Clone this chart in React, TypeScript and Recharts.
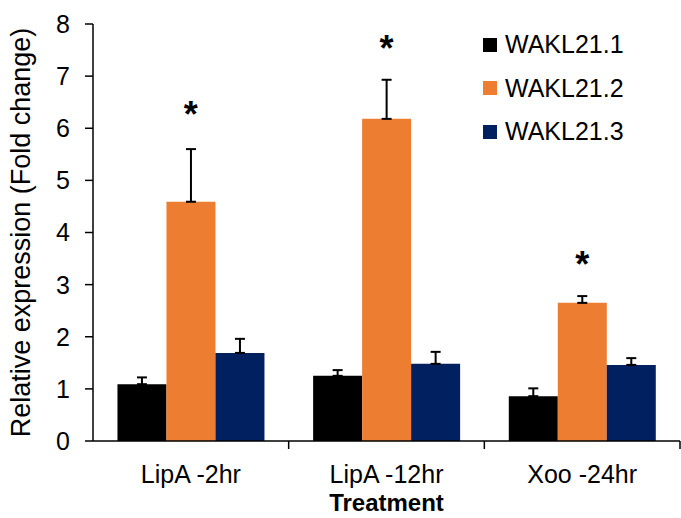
import React from 'react';
import { ComposedChart, Bar, XAxis, YAxis, ErrorBar, Scatter, Label } from 'recharts';

const categories = ['LipA -2hr', 'LipA -12hr', 'Xoo -24hr'];
const wakl211 = [1.09, 1.25, 0.86];
const wakl212 = [4.59, 6.18, 2.65];
const wakl213 = [1.69, 1.48, 1.46];
const err211 = [0.13, 0.11, 0.15];
const err212 = [1.01, 0.75, 0.13];
const err213 = [0.27, 0.23, 0.13];
const starLevel = [6.35, 7.62, 3.47];
const yTicks = [0, 1, 2, 3, 4, 5, 6, 7, 8];

const seriesNames = ['WAKL21.1', 'WAKL21.2', 'WAKL21.3'];
const colors = ['#000000', '#ED7D31', '#002060'];

const data = categories.map((c, i) => ({
  name: c,
  a: wakl211[i],
  b: wakl212[i],
  c: wakl213[i],
  ea: [0, err211[i]],
  eb: [0, err212[i]],
  ec: [0, err213[i]],
  star: starLevel[i],
}));

const FONT = '"Liberation Sans", Arial, sans-serif';

const CatTick = (props: any) => {
  const { x, y, payload, width } = props;
  const half = payload && payload.offset ? payload.offset : width / categories.length / 2;
  const axisY = y - 8;
  return (
    <g>
      <line x1={x + half} x2={x + half} y1={axisY} y2={axisY + 8} stroke="#000" strokeWidth={1.5} />
      <text x={x} y={axisY + 33} textAnchor="middle" dominantBaseline="central" fontSize={25} fill="#000" fontFamily={FONT}>
        {payload.value}
      </text>
    </g>
  );
};

const Star = (props: any) => {
  const { cx, cy } = props;
  return (
    <text x={cx} y={cy + 17} textAnchor="middle" fontSize={36} fontWeight="bold" fill="#000" fontFamily={FONT}>
      *
    </text>
  );
};

const YLabel = (props: any) => {
  const vb = props.viewBox || {};
  const cy = (vb.y || 0) + (vb.height || 0) / 2;
  return (
    <text
      x={21}
      y={cy}
      transform={`rotate(-90, 21, ${cy})`}
      textAnchor="middle"
      dominantBaseline="central"
      fontSize={27}
      fill="#000"
      fontFamily={FONT}
    >
      Relative expression (Fold change)
    </text>
  );
};

export default function App() {
  return (
    <div style={{ position: 'absolute', left: 0, top: 0, width: 681, height: 518, background: '#fff' }}>
      <ComposedChart
        width={681}
        height={518}
        data={data}
        margin={{ top: 24, right: 1, bottom: 0, left: 0 }}
        barCategoryGap="12.5%"
        barGap={0}
      >
        <XAxis
          dataKey="name"
          height={77}
          tick={<CatTick />}
          tickLine={false}
          axisLine={{ stroke: '#000', strokeWidth: 1.5 }}
          interval={0}
        >
          <Label value="Treatment" position="insideBottom" offset={7} fontSize={24} fontWeight="bold" fill="#000" fontFamily={FONT} />
        </XAxis>
        <YAxis
          width={93}
          domain={[0, 8]}
          ticks={yTicks}
          tickSize={8}
          tickMargin={15}
          tick={{ fontSize: 25, fill: '#000', fontFamily: FONT }}
          tickLine={{ stroke: '#000', strokeWidth: 1.5 }}
          axisLine={{ stroke: '#000', strokeWidth: 1.5 }}
          interval={0}
        >
          <Label content={<YLabel />} />
        </YAxis>
        <Bar dataKey="a" name={seriesNames[0]} fill={colors[0]} isAnimationActive={false}>
          <ErrorBar dataKey="ea" width={5} stroke="#000" strokeWidth={2} direction="y" />
        </Bar>
        <Bar dataKey="b" name={seriesNames[1]} fill={colors[1]} isAnimationActive={false}>
          <ErrorBar dataKey="eb" width={5} stroke="#000" strokeWidth={2} direction="y" />
        </Bar>
        <Bar dataKey="c" name={seriesNames[2]} fill={colors[2]} isAnimationActive={false}>
          <ErrorBar dataKey="ec" width={5} stroke="#000" strokeWidth={2} direction="y" />
        </Bar>
        <Scatter dataKey="star" shape={<Star />} isAnimationActive={false} legendType="none" />
      </ComposedChart>
      <div style={{ position: 'absolute', left: 483, top: 23, fontFamily: FONT }}>
        {seriesNames.map((n, i) => (
          <div key={n} style={{ display: 'flex', alignItems: 'center', height: 43.5 }}>
            <div style={{ width: 14, height: 14, background: colors[i], marginRight: 8 }} />
            <span style={{ fontSize: 25, color: '#000', lineHeight: '25px' }}>{n}</span>
          </div>
        ))}
      </div>
    </div>
  );
}
